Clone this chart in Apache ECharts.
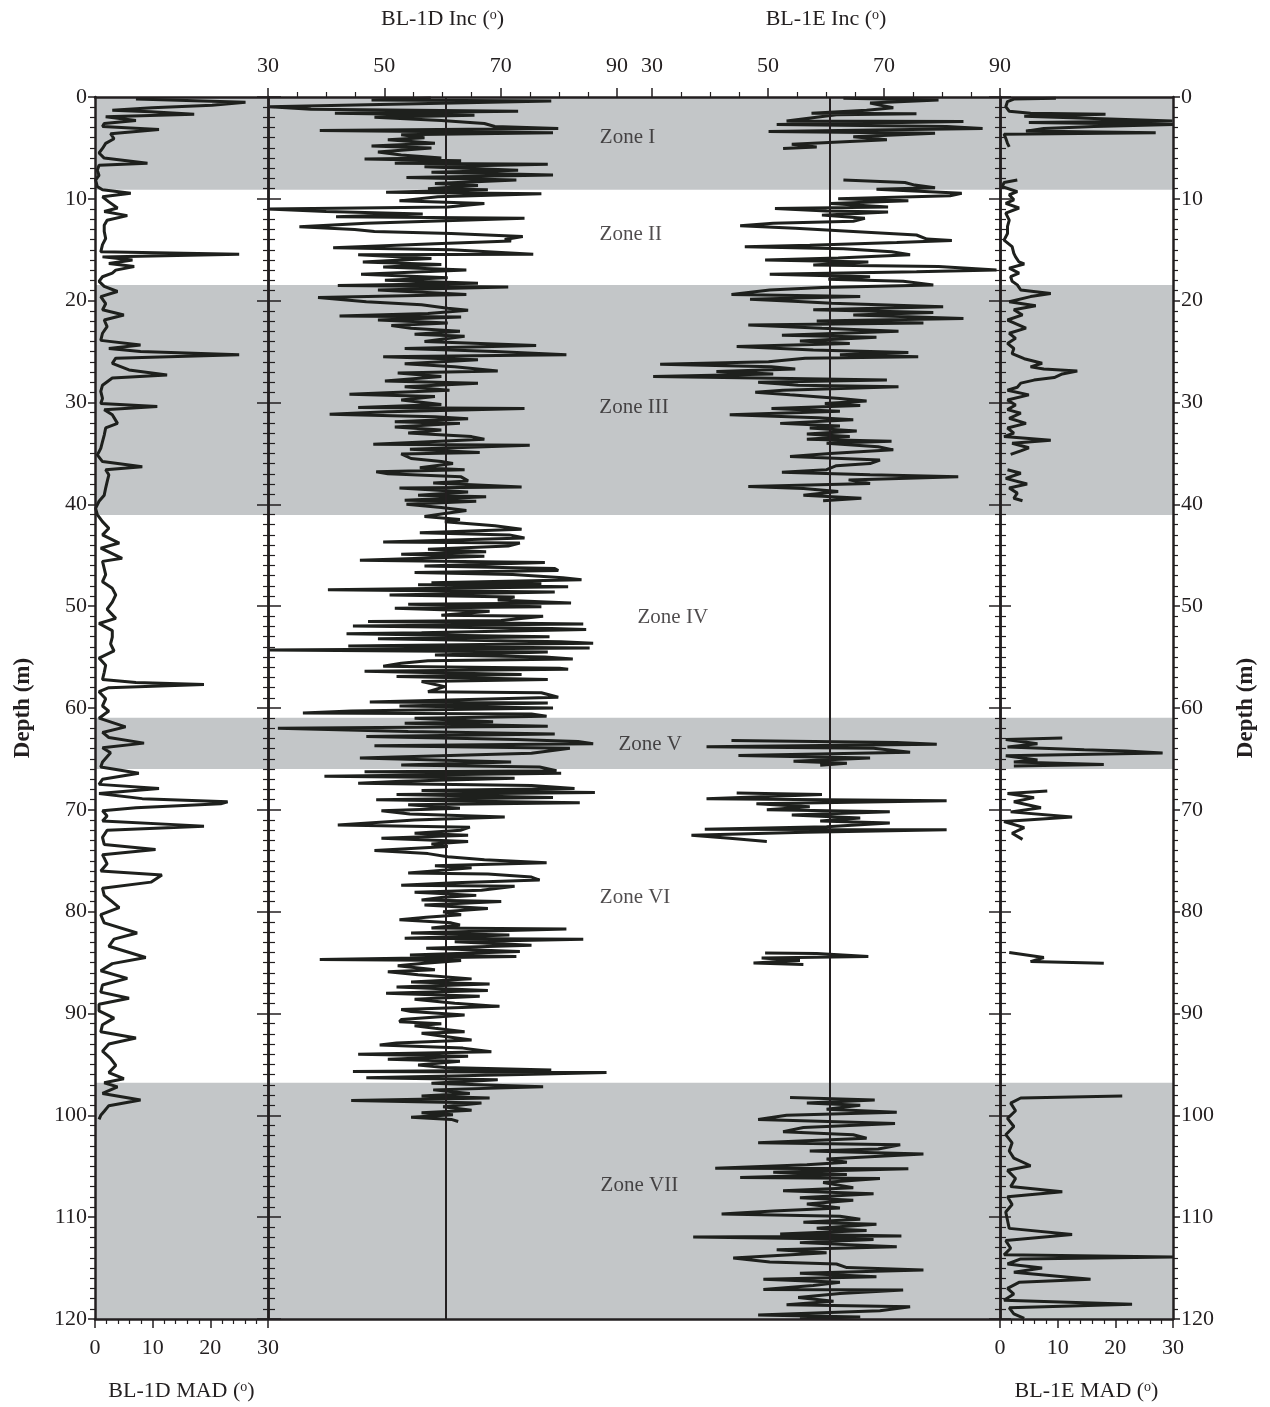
<!DOCTYPE html>
<html>
<head>
<meta charset="utf-8">
<script src="https://cdn.jsdelivr.net/npm/echarts@6.0.0/dist/echarts.min.js"></script>
<style>html,body{margin:0;background:#fff}#box{width:1270px;height:1407px}</style>
</head>
<body>
<div id="box"></div>
<script>
// zone bands (depth, m) and labels
var zoneBands = [[0, 9.1], [18.45, 41.05], [60.95, 66.0], [96.8, 120]];
var zoneNames = ['Zone I', 'Zone II', 'Zone III', 'Zone IV', 'Zone V', 'Zone VI', 'Zone VII'];
var zoneDepths = [4.0, 13.5, 30.5, 51.1, 63.6, 78.6, 106.9];
var zoneX = [0.494, 0.497, 0.500, 0.536, 0.515, 0.501, 0.505];
var refInc = 60.6;
var incTicks = [30, 90, 20];
var madTicks = [0, 30, 10];

// [depth, value]; null = gap in the record
var inc1D = [
[0.1,58.0],[0.3,47.8],[0.4,78.7],[0.95,30.3],[1.2,37.4],[1.4,73.0],[1.6,41.5],[1.8,65.5],[2.0,48.3],[2.3,59.8],[2.6,67.2],[2.9,69.0],[3.1,79.9],[3.3,38.9],[3.5,79.0],[3.7,52.9],[4.0,56.9],[4.2,50.6],[4.55,58.7],[4.8,47.8],[5.0,58.1],[5.4,48.9],[5.7,52.9],[6.0,59.8],[6.1,46.6],[6.25,63.2],[6.5,51.8],[6.6,78.1],[6.85,56.9],[7.2,73.0],[7.4,58.1],[7.65,79.0],[7.9,53.8],[8.15,72.7],[8.5,58.7],[8.7,66.1],[9.0,57.5],[9.1,67.8],[9.35,50.3],[9.5,77.0],[9.8,59.2],[10.2,52.6],[10.45,67.2],[10.8,60.9],[11.0,30.0],[11.25,40.0],[11.5,56.6],[11.75,41.7],[11.9,74.1],[12.4,46.9],[12.75,35.4],[13.0,44.9],[13.2,48.3],[13.4,61.5],[13.7,73.8],[14.0,70.7],[14.15,71.8],[14.4,58.7],[14.8,41.2],[15.0,61.5],[15.45,75.6],[15.5,45.5],[15.85,58.1],[16.2,46.3],[16.45,59.8],[16.7,49.8],[17.0,64.1],[17.4,46.0],[17.75,60.9],[18.0,50.1],[18.3,66.1],[18.5,42.0],[18.65,71.3],[18.95,48.9],[19.4,64.1],[19.7,38.6],[20.1,46.9],[20.4,56.4],[20.75,60.9],[20.95,64.4],[21.25,57.5],[21.5,42.3],[21.6,63.2],[21.9,48.9],[22.2,60.9],[22.45,51.2],[22.7,54.6],[23.0,63.0],[23.3,55.2],[23.5,63.8],[24.0,56.9],[24.4,76.1],[24.7,53.5],[25.0,69.0],[25.3,81.3],[25.5,49.8],[25.8,66.1],[26.2,53.5],[26.5,62.1],[26.9,69.5],[27.1,52.3],[27.45,59.8],[27.9,50.1],[28.1,66.1],[28.45,53.5],[28.8,61.2],[29.2,44.0],[29.4,58.7],[29.75,52.9],[30.2,59.8],[30.5,45.5],[30.6,74.1],[30.9,50.6],[31.15,40.6],[31.4,58.7],[31.6,64.4],[31.9,51.8],[32.05,63.0],
[32.4,51.8],[32.7,59.8],[33.0,54.1],[33.35,65.0],[33.6,67.2],[34.1,48.1],[34.2,75.0],[34.6,54.4],[34.9,66.4],[35.05,52.9],[35.5,54.6],[35.8,59.8],[36.0,61.8],[36.4,56.1],[36.6,63.8],[36.8,48.6],[37.0,50.6],[37.3,63.2],[37.7,64.4],[37.9,58.4],[38.3,73.6],[38.4,52.6],[38.8,64.4],[39.1,55.8],[39.25,67.5],[39.6,53.5],[39.7,65.8],[40.0,53.8],[40.3,59.8],[40.6,64.1],[40.9,60.4],[41.2,56.9],[41.5,63.0],[41.7,60.4],[42.1,69.0],[42.45,73.6],[42.8,56.1],[43.0,71.5],[43.3,74.1],[43.7,49.8],[43.8,73.3],[44.1,71.3],[44.4,57.5],[44.65,67.5],[44.9,52.9],[45.1,67.2],[45.5,45.8],[45.7,77.6],[46.05,56.9],[46.3,79.3],[46.5,79.9],[46.7,55.2],[46.9,72.1],[47.2,80.7],[47.4,83.9],[47.7,58.1],[47.8,77.0],[47.9,55.8],[48.1,81.6],[48.4,40.3],[48.6,79.3],[48.9,50.9],[49.1,72.4],[49.4,69.5],[49.7,82.1],[49.8,54.1],[50.05,77.0],[50.2,51.8],[50.5,68.1],[50.9,59.8],[51.0,77.3],[51.4,70.1],[51.5,47.2],[51.75,84.2],[51.95,44.6],[52.2,78.7],[52.3,84.7],[52.6,56.4],[52.7,43.5],[53.0,78.4],[53.2,48.9],[53.5,80.4],[53.65,85.9],[53.9,43.8],[54.1,85.3],[54.3,30.0],[54.5,78.1],[54.8,58.7],[55.0,77.6],[55.2,82.4],[55.35,57.5],[55.6,52.9],[55.9,49.8],[56.1,80.1],[56.2,81.6],[56.4,46.6],[56.7,73.6],[56.9,52.1],[57.2,78.1],[57.4,56.4],[57.9,60.4],[58.4,57.5],[58.5,77.0],[58.95,79.9],[59.4,47.5],[59.5,78.1],[59.8,52.6],[60.0,79.0],[60.3,44.3],[60.5,36.0],[60.6,75.3],[60.8,77.9],[61.0,55.2],[61.35,68.7],[61.5,53.5],[61.8,78.1],[62.0,31.7],[62.3,54.1],[62.55,79.3],[62.8,46.9],[63.1,72.7],[63.3,83.3],[63.5,85.9],[63.7,48.3],[63.95,81.9],
[64.45,75.3],[64.9,45.8],[65.3,71.8],[65.6,52.9],[65.8,76.7],[66.15,79.6],[66.25,46.6],[66.4,80.4],[66.7,39.7],[66.9,72.4],[67.2,52.9],[67.4,45.5],[67.6,75.3],[67.9,82.7],[68.1,56.4],[68.3,86.2],[68.5,52.1],[68.8,79.0],[69.0,48.6],[69.3,83.6],[69.5,54.1],[69.85,63.0],[70.1,49.5],[70.4,54.4],[70.7,70.7],[71.0,55.2],[71.5,42.0],[71.7,64.7],[72.0,63.2],[72.3,55.2],[72.5,64.4],[72.8,49.5],[73.1,64.4],[73.35,58.1],[73.6,60.9],[74.0,48.3],[74.3,57.5],[74.6,60.9],[74.9,67.2],[75.2,77.9],[75.5,58.7],[75.7,65.0],[76.2,54.1],[76.3,67.8],[76.6,75.3],[76.9,76.7],[77.15,62.1],[77.4,52.9],[77.5,72.4],[77.9,66.7],[78.1,55.2],[78.4,65.8],[78.6,59.8],[78.85,56.4],[79.0,70.1],[79.35,56.9],[79.7,67.8],[80.0,60.1],[80.3,63.2],[80.55,57.2],[80.8,52.6],[81.1,61.5],[81.3,63.0],[81.6,58.1],[81.7,81.3],[82.1,54.6],[82.3,71.5],[82.6,53.5],[82.7,84.2],[82.95,62.1],[83.3,75.3],[83.6,57.2],[83.9,73.3],[84.25,54.4],[84.4,72.7],[84.7,38.9],[84.8,63.2],[85.1,56.4],[85.3,52.3],[85.7,58.7],[85.9,50.6],[86.2,55.8],[86.6,65.0],[86.9,54.6],[87.1,68.1],[87.4,52.1],[87.75,67.8],[88.0,50.3],[88.3,66.4],[88.6,55.2],[89.0,62.1],[89.3,69.8],[89.6,52.9],[89.8,54.6],[90.15,63.8],[90.6,52.9],[90.8,52.6],[91.0,59.8],[91.2,55.2],[91.45,58.7],[91.8,63.8],[91.95,56.4],[92.2,59.8],[92.6,65.0],[92.9,52.1],[93.1,49.2],[93.4,63.5],[93.75,68.4],[94.0,45.5],[94.2,64.4],[94.5,50.6],[94.7,63.0],[95.05,55.8],[95.3,60.4],[95.55,78.7],[95.7,44.6],[95.8,88.2],[96.0,73.6],[96.3,46.9],[96.5,69.5],[96.85,58.1],[97.2,77.3],[97.5,58.4],[97.85,64.7],[98.1,56.4],[98.3,68.1],[98.55,44.3],[98.8,66.7],[99.15,60.1],[99.5,65.0],[99.75,56.4],[99.95,61.8],[100.2,54.6],[100.4,61.5],[100.6,62.7]
];

var inc1E = [
[0.13,63.0],[0.3,79.4],[0.6,67.6],[1.05,71.6],[1.3,67.0],[1.6,57.5],[1.65,75.6],[1.75,61.8],[2.35,53.2],[2.4,83.7],[2.7,51.5],[2.9,80.8],[3.1,87.0],[3.4,50.1],[3.55,78.8],[3.9,64.7],[4.2,70.5],[4.65,54.1],[4.9,58.4],[5.05,52.6],
null,
[8.15,63.0],[8.4,73.6],[8.65,75.3],[8.9,78.8],[9.05,68.7],[9.45,83.4],[9.7,81.4],[10.0,62.1],[10.2,74.2],[10.45,60.7],[10.8,70.7],[10.95,51.2],[11.2,60.1],[11.3,70.7],[11.6,59.3],[11.9,66.7],[12.2,64.7],[12.4,50.9],[12.65,45.2],[12.9,54.7],[13.2,64.7],[13.55,75.6],[13.95,77.4],[14.1,81.7],[14.3,72.2],[14.55,57.2],[14.7,46.0],[14.9,63.0],[15.2,71.3],[15.5,74.5],[15.8,62.1],[16.0,49.5],[16.2,67.3],[16.5,57.8],[16.65,79.4],[17.0,89.4],[17.15,75.6],[17.4,50.3],[17.65,67.6],[17.9,60.4],[18.1,73.3],[18.45,78.5],[18.7,59.3],[18.95,50.3],[19.4,43.7],[19.6,65.9],[19.85,46.9],[20.1,56.1],[20.25,61.0],[20.6,80.2],[20.9,57.8],[21.15,78.5],[21.4,64.7],[21.75,83.7],[22.0,58.4],[22.2,76.8],[22.4,46.6],[22.7,59.3],[23.0,72.5],[23.4,52.4],[23.6,68.7],[23.95,55.5],[24.2,64.1],[24.5,44.6],[24.85,57.8],[25.1,74.2],[25.3,62.4],[25.5,75.9],[25.65,56.4],[26.0,50.1],[26.25,31.4],[26.5,50.6],[26.7,54.7],[26.95,41.1],[27.2,50.9],[27.45,30.2],[27.6,48.3],[27.8,70.5],[28.0,48.3],[28.3,55.2],[28.45,72.5],[28.8,52.6],[29.0,47.8],[29.25,53.8],[29.6,62.4],[29.85,67.0],[30.1,59.8],[30.3,65.9],[30.6,50.6],[30.85,62.4],[31.2,43.4],[31.5,58.7],[31.7,64.7],[32.05,52.1],[32.3,62.4],[32.5,57.2],[32.8,65.3],[33.1,56.7],[33.35,64.1],[33.6,56.7],[33.8,71.3],[34.0,60.1],[34.35,69.0],[34.65,71.6],[35.0,60.7],[35.3,53.8],[35.65,69.3],[36.0,67.6],[36.2,61.8],[36.6,60.1],[36.85,52.4],[37.1,67.6],[37.3,82.8],[37.6,63.9],[37.95,67.6],[38.25,46.6],[38.45,56.1],[38.75,62.1],[39.1,56.1],[39.4,66.1],[39.65,59.5],
null,
[63.2,43.7],[63.4,72.2],[63.57,79.1],[63.8,39.4],[63.96,68.2],[64.35,74.5],[64.66,44.9],[64.9,67.6],[65.24,54.4],[65.43,63.6],[65.63,59.0],
null,
[68.35,44.6],[68.5,59.3],[68.9,39.4],[69.1,80.8],[69.4,48.0],[69.7,57.2],[70.0,49.8],[70.2,71.0],[70.5,54.1],[70.8,65.9],[71.1,59.0],[71.3,71.0],[71.65,60.1],[71.9,39.1],[71.96,80.8],[72.2,56.4],[72.5,36.8],[72.8,43.4],[73.1,49.8],
null,
[84.07,49.5],[84.1,58.4],[84.4,67.3],[84.55,48.9],[84.8,55.5],[85.05,47.5],[85.2,56.1],
null,
[98.25,53.8],[98.5,68.4],[98.8,56.7],[99.0,65.9],[99.4,60.1],[99.7,72.2],[100.0,53.2],[100.4,48.3],[100.6,60.4],[100.8,71.9],[101.2,56.1],[101.6,52.6],[101.9,64.7],[102.25,67.0],[102.7,48.3],[102.9,72.8],[103.3,69.0],[103.5,57.2],[103.8,76.8],[104.3,60.1],[104.6,63.6],[104.85,56.7],[105.2,40.9],[105.25,74.2],[105.6,50.9],[105.8,63.6],[106.1,45.2],[106.2,69.3],[106.6,59.5],[107.1,64.7],[107.4,52.6],[107.7,68.2],[108.1,55.5],[108.35,64.7],[108.7,56.7],[109.1,62.4],[109.4,50.9],[109.7,42.0],[109.9,62.4],[110.2,65.9],[110.5,56.1],[110.7,68.7],[111.1,58.4],[111.3,67.0],[111.65,52.1],[111.85,73.0],[111.95,37.1],[112.2,68.2],[112.5,55.5],[112.9,72.2],[113.2,51.5],[113.5,60.1],[114.0,44.0],[114.4,50.3],[114.6,61.8],[114.95,63.6],[115.2,76.8],[115.5,55.5],[115.85,68.7],[116.1,49.2],[116.4,62.4],[116.7,57.8],[117.1,49.2],[117.15,73.3],[117.5,62.4],[117.9,55.2],[118.25,61.3],[118.6,53.2],[118.8,74.5],[119.2,69.3],[119.6,48.3],[119.8,65.9],[119.95,55.5]
];

var mad1D = [
[0.2,7.1],[0.52,26.1],[0.8,20.3],[1.05,9.9],[1.3,3.0],[1.45,9.7],[1.7,17.2],[1.95,1.85],[2.3,7.1],[2.6,1.6],[2.9,1.3],[3.2,11.1],[3.6,2.7],[4.1,3.3],[4.55,1.85],[5.05,1.3],[5.5,0.7],[6.0,1.6],[6.5,9.1],[6.7,0.7],[7.2,0.4],[7.7,0.7],[8.15,0.1],[8.8,0.4],[9.1,1.3],[9.45,6.2],[9.8,1.3],[10.3,2.4],[10.9,3.9],[11.25,1.6],[11.65,5.6],[12.1,2.1],[12.6,1.6],[13.2,1.6],[13.9,1.85],[14.5,1.3],[15.2,1.0],[15.45,25.0],[15.7,1.3],[16.0,6.5],[16.35,2.4],[16.65,6.8],[17.0,3.6],[17.3,3.0],[17.65,1.3],[18.1,0.7],[18.6,1.6],[19.1,3.9],[19.6,1.0],[20.3,1.85],[20.9,1.3],[21.4,5.0],[21.9,1.6],[22.55,2.1],[23.2,1.3],[23.9,1.0],[24.35,7.9],[24.7,2.4],[25.0,7.9],[25.3,25.0],[25.65,3.6],[26.15,3.0],[26.8,5.9],[27.3,12.5],[27.6,3.0],[28.3,1.3],[28.9,1.0],[29.6,1.3],[30.1,1.0],[30.4,10.8],[30.7,1.6],[31.2,3.0],[32.05,3.9],[32.5,1.85],[33.2,1.6],[33.85,1.3],[34.5,1.0],[35.15,0.4],[35.8,1.3],[36.3,8.2],[36.6,1.85],[37.1,2.4],[37.8,2.1],[38.4,1.85],[39.1,1.6],[39.7,0.7],[40.4,0.1],[41.0,0.4],[41.7,1.3],[42.35,2.4],[43.0,1.3],[43.8,4.2],[44.3,1.0],[45.3,4.7],[45.6,1.3],[46.3,1.6],[46.9,1.85],[47.6,1.3],[48.25,3.0],[48.9,3.6],[49.6,3.0],[50.3,2.1],[51.2,3.6],[51.7,0.7],[52.4,3.0],[53.05,3.0],[53.7,2.7],[54.4,3.3],[55.1,0.7],[55.8,1.85],[56.5,1.6],[57.2,1.3],[57.5,7.1],[57.7,18.9],[58.0,2.4],[58.4,0.7],[59.1,1.85],[59.8,1.3],[60.3,2.4],[61.0,0.7],[61.85,5.3],[62.4,1.3],[62.9,2.4],[63.45,8.5],[63.9,1.3],[64.4,2.7],[65.3,1.3],[65.8,1.0],[66.4,7.6],[67.0,1.3],[67.5,0.7],[67.9,11.1],[68.4,0.7],[68.9,8.2],[69.2,23.0],[69.4,21.8],[69.8,7.1],[70.1,1.3],[70.6,2.1],[71.1,1.3],[71.6,18.9],[72.0,2.1],[72.7,1.3],[73.4,1.6],[73.9,10.5],[74.4,1.3],[75.3,2.1],[76.0,1.0],[76.4,11.6],[77.1,9.7],[77.7,1.3],[78.4,1.6],[78.9,2.7],[79.6,4.2],[80.3,1.0],[81.1,1.6],[82.1,7.3],[82.7,3.3],[83.4,2.4],[84.5,8.8],[85.1,3.0],[85.8,1.0],[86.55,5.6],[87.2,1.3],[87.9,1.0],[88.5,5.9],[89.1,0.7],[89.75,0.7],[90.45,3.3],[91.1,1.3],[91.8,1.0],[92.4,7.1],[93.0,2.4],[93.7,1.3],[94.4,2.7],[95.1,3.6],[95.8,2.4],[96.4,5.0],[96.8,1.6],[97.2,3.9],[97.85,1.3],[98.5,7.9],[99.05,2.4],[99.6,1.6],[100.0,1.0],[100.4,0.7]
];

var mad1E = [
[0.13,9.7],[0.2,2.4],[0.45,1.3],[0.95,1.0],[1.4,1.6],[1.6,5.3],[1.7,18.3],[1.9,4.2],[2.35,29.9],[2.5,5.0],[2.7,30.0],[2.9,16.3],[3.1,7.6],[3.35,4.5],[3.5,27.0],[3.65,0.7],[4.05,1.0],[4.55,1.3],[4.9,1.6],
null,
[8.15,3.0],[8.4,0.7],[8.8,0.4],[9.3,3.0],[9.6,1.6],[10.1,2.4],[10.45,1.0],[10.9,3.3],[11.4,1.0],[12.1,1.6],[12.7,1.3],[13.4,1.3],[14.05,0.7],[14.7,2.1],[15.35,2.4],[15.7,2.7],[16.2,3.3],[16.4,4.2],[16.8,1.6],[17.3,3.3],[17.65,1.85],[18.1,2.1],[18.45,3.0],[18.95,3.6],[19.3,8.8],[19.6,5.3],[20.1,1.6],[20.5,6.2],[20.9,2.4],[21.4,3.9],[21.9,1.3],[22.4,3.3],[22.7,4.5],[23.2,1.6],[23.7,2.7],[24.2,1.3],[24.7,2.4],[25.2,2.1],[25.7,4.2],[26.15,7.3],[26.5,5.3],[26.7,7.6],[26.9,13.4],[27.2,10.8],[27.55,9.4],[27.8,5.9],[28.1,3.6],[28.5,3.0],[28.8,1.3],[29.25,5.0],[29.75,1.3],[30.25,2.7],[30.7,1.3],[31.05,3.6],[31.55,1.6],[32.05,4.5],[32.5,1.3],[33.0,2.4],[33.35,0.7],[33.7,8.8],[34.0,2.1],[34.45,5.0],[34.75,3.6],[35.1,1.85],
null,
[36.6,1.3],[36.95,3.6],[37.45,1.0],[38.0,4.7],[38.4,1.6],[38.9,3.0],[39.4,2.4],[39.65,3.9],
null,
[62.94,10.8],[63.1,1.0],[63.5,6.5],[63.84,1.3],[64.1,14.6],[64.23,21.8],[64.43,28.2],[64.7,1.0],[65.1,6.5],[65.3,2.4],[65.56,18.0],[65.7,2.4],
null,
[68.15,8.2],[68.4,1.3],[68.8,5.9],[69.2,2.4],[69.8,7.1],[70.2,1.85],[70.7,12.5],[71.15,0.7],[71.75,4.2],[72.3,2.1],[72.9,3.9],
null,
[84.0,1.6],[84.5,7.6],[84.9,5.3],[85.06,18.0],
null,
[98.1,21.2],[98.3,3.6],[98.8,1.85],[99.55,2.7],[100.3,1.3],[101.1,2.4],[101.9,1.0],[102.7,2.1],[103.5,1.6],[104.2,2.4],[104.95,5.3],[105.4,1.3],[106.2,2.7],[107.0,1.85],[107.5,10.8],[108.0,1.3],[108.75,2.1],[109.5,1.0],[110.3,1.3],[111.1,1.6],[111.7,12.5],[112.3,1.0],[113.05,1.85],[113.7,0.7],[113.9,30.0],[114.1,3.6],[114.6,1.3],[115.0,7.3],[115.4,2.4],[116.1,15.7],[116.4,3.3],[117.0,1.3],[117.55,2.4],[118.15,0.7],[118.55,22.9],[118.9,1.6],[119.5,2.4],[119.95,4.2]
];

var font = 'Liberation Serif';
var ink = '#231f20';
var lineInk = '#1e201d';

function pts(list) {
  return list.map(function (p) { return p ? [p[1], p[0]] : ['-', '-']; });
}

var supRich = { sup: { fontSize: 14, verticalAlign: 'top', fontFamily: font, color: ink } };

function depthAxis(grid, pos, inside, len, minorLen, labels) {
  return {
    gridIndex: grid, type: 'value', inverse: true, min: 0, max: 120, interval: 10,
    position: pos, z: 10,
    axisLine: { show: true, onZero: false, lineStyle: { color: ink, width: 2.5 } },
    axisTick: { show: true, inside: inside, length: len, lineStyle: { color: ink, width: 1.5 } },
    minorTick: { show: true, splitNumber: 10, length: minorLen, lineStyle: { color: ink, width: 1.2 } },
    axisLabel: { show: labels, margin: 8, fontFamily: font, fontSize: 22, color: ink },
    splitLine: { show: false }, minorSplitLine: { show: false }
  };
}

function valueAxis(grid, pos, ticks, minorSplit, name, gap, margin) {
  return {
    gridIndex: grid, type: 'value', min: ticks[0], max: ticks[1], interval: ticks[2],
    position: pos, z: 10,
    name: name, nameLocation: 'middle', nameGap: gap,
    nameTextStyle: { fontFamily: font, fontSize: 22, color: ink, rich: supRich },
    axisLine: { show: false, onZero: false },
    axisTick: { show: true, length: 9, lineStyle: { color: ink, width: 1.5 } },
    minorTick: { show: true, splitNumber: minorSplit, length: 5, lineStyle: { color: ink, width: 1.2 } },
    axisLabel: { margin: margin, fontFamily: font, fontSize: 22, color: ink },
    splitLine: { show: false }, minorSplitLine: { show: false }
  };
}

function frameX(pos) {
  return {
    gridIndex: 0, type: 'value', min: 0, max: 1, position: pos, z: 10,
    axisLine: { show: true, onZero: false, lineStyle: { color: ink, width: 2.5 } },
    axisTick: { show: false }, axisLabel: { show: false }, splitLine: { show: false }
  };
}

function traceSeries(xi, data, withRef) {
  var s = {
    type: 'line', xAxisIndex: xi, yAxisIndex: xi, data: pts(data),
    showSymbol: false, symbol: 'none', connectNulls: false, z: 3,
    lineStyle: { color: lineInk, width: 3 }
  };
  if (withRef) {
    s.markLine = {
      silent: true, symbol: ['none', 'none'], label: { show: false },
      lineStyle: { color: ink, width: 2, type: 'solid' },
      data: [{ xAxis: refInc }]
    };
  }
  return s;
}

var chartDom = document.getElementById('box');
var myChart = echarts.init(chartDom);

var depthL = depthAxis(0, 'left', false, 7, 5, true);
depthL.name = 'Depth (m)'; depthL.nameLocation = 'middle'; depthL.nameGap = 60; depthL.nameRotate = 90;
depthL.nameTextStyle = { fontFamily: font, fontSize: 23, fontWeight: 'bold', color: ink };
var depthR = depthAxis(0, 'right', false, 7, 5, true);
depthR.name = 'Depth (m)'; depthR.nameLocation = 'middle'; depthR.nameGap = 62; depthR.nameRotate = 90;
depthR.nameTextStyle = { fontFamily: font, fontSize: 23, fontWeight: 'bold', color: ink };

var option = {
  animation: false,
  backgroundColor: '#fff',
  grid: [
    { left: 95, top: 97, width: 1078, height: 1222, outerBoundsMode: 'none' },
    { left: 95, top: 97, width: 173, height: 1222, outerBoundsMode: 'none' },
    { left: 268, top: 97, width: 349, height: 1222, outerBoundsMode: 'none' },
    { left: 652, top: 97, width: 348, height: 1222, outerBoundsMode: 'none' },
    { left: 1000, top: 97, width: 173, height: 1222, outerBoundsMode: 'none' }
  ],
  xAxis: [
    frameX('top'),
    frameX('bottom'),
    valueAxis(1, 'bottom', madTicks, 5, 'BL-1D MAD ({sup|o})', 61, 18),
    valueAxis(2, 'top', incTicks, 4, 'BL-1D Inc ({sup|o})', 67, 20),
    valueAxis(3, 'top', incTicks, 4, 'BL-1E Inc ({sup|o})', 67, 20),
    valueAxis(4, 'bottom', madTicks, 5, 'BL-1E MAD ({sup|o})', 61, 18)
  ],
  yAxis: [
    depthL,
    depthR,
    depthAxis(1, 'right', true, 11, 5, false),
    depthAxis(2, 'left', true, 13, 7, false),
    depthAxis(3, 'right', true, 11, 5, false),
    depthAxis(4, 'left', true, 11, 6, false)
  ],
  series: [
    {
      type: 'scatter', xAxisIndex: 0, yAxisIndex: 0, z: 1,
      symbolSize: 1, itemStyle: { color: 'rgba(0,0,0,0)' }, silent: true,
      data: zoneNames.map(function (n, i) { return { name: n, value: [zoneX[i], zoneDepths[i]] }; }),
      label: { show: true, position: 'inside', formatter: '{b}', fontFamily: font, fontSize: 21, color: ink },
      markArea: {
        silent: true,
        itemStyle: { color: '#c3c6c8' },
        data: zoneBands.map(function (b) { return [{ xAxis: 0, yAxis: b[0] }, { xAxis: 1, yAxis: b[1] }]; })
      }
    },
    // placeholder so series index matches axis index for traces
    { type: 'line', xAxisIndex: 1, yAxisIndex: 1, data: [] },
    traceSeries(2, mad1D, false),
    traceSeries(3, inc1D, true),
    traceSeries(4, inc1E, true),
    traceSeries(5, mad1E, false)
  ]
};
option && myChart.setOption(option);
</script>
</body>
</html>
